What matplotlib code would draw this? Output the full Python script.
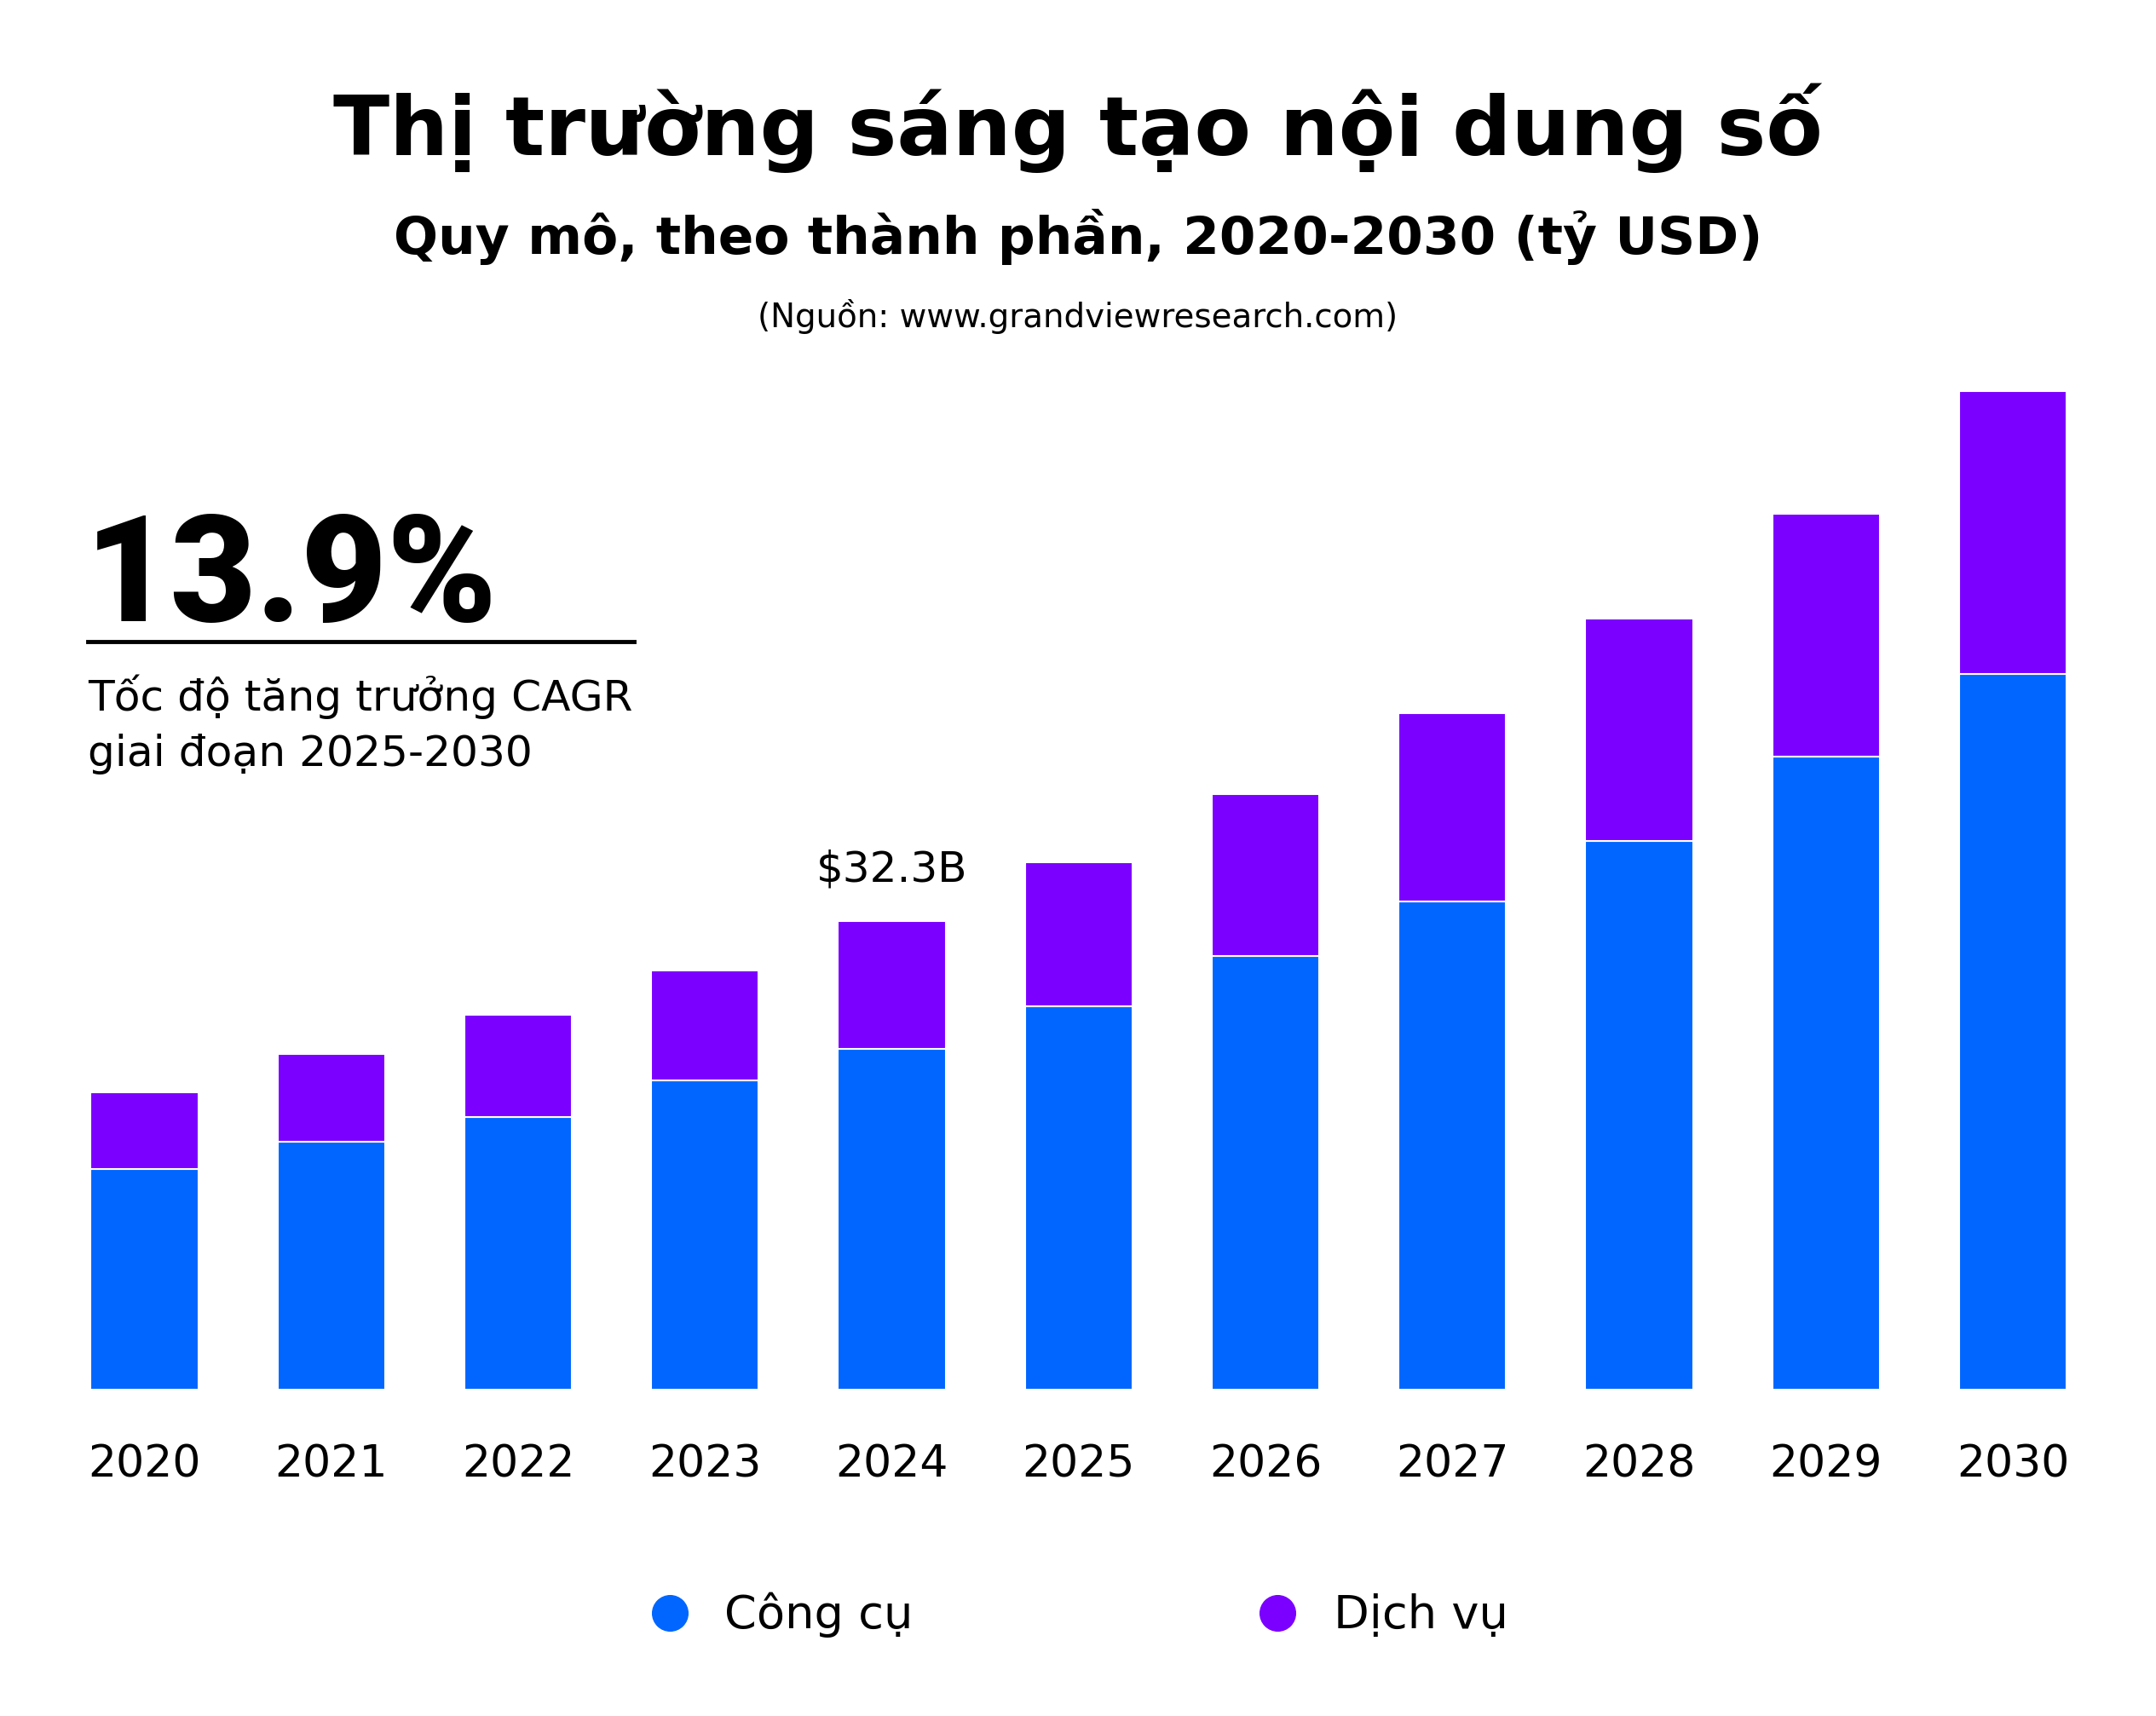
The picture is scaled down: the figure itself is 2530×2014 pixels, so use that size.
import matplotlib
matplotlib.use("Agg")
import matplotlib.pyplot as plt
from matplotlib.lines import Line2D

years = ["2020", "2021", "2022", "2023", "2024", "2025", "2026", "2027", "2028", "2029", "2030"]
cong_cu = [15.2, 17.1, 18.8, 21.3, 23.5, 26.4, 29.9, 33.6, 37.8, 43.6, 49.3]
dich_vu = [5.3, 6.0, 7.0, 7.6, 8.8, 9.9, 11.1, 13.0, 15.3, 16.7, 19.5]
series_names = ["Công cụ", "Dịch vụ"]
title = "Thị trường sáng tạo nội dung số"
subtitle = "Quy mô, theo thành phần, 2020-2030 (tỷ USD)"
source = "(Nguồn: www.grandviewresearch.com)"
cagr_value = "13.9%"
cagr_lines = ["Tốc độ tăng trưởng CAGR", "giai đoạn 2025-2030"]
highlight_label = "$32.3B"
highlight_index = 4

BLUE = "#0066FF"
PURPLE = "#7B00FF"
W, H = 2530, 2014
DPI = 100
FONT = ["DejaVu Sans"]

plt.rcParams["font.family"] = FONT
fig = plt.figure(figsize=(W / DPI, H / DPI), dpi=DPI)
fig.patch.set_facecolor("white")

# axes geometry in pixels
base_px = 1631
top_px = 300
px_per_unit = 17.04
first_center = 169.5
step = 219.25
ax = fig.add_axes([0, (H - base_px) / H, 1, (base_px - top_px) / H])
ax.set_xlim(-first_center / step, (W - first_center) / step)
ax.set_ylim(0, (base_px - top_px) / px_per_unit)
ax.axis("off")

x = list(range(len(years)))
ax.bar(x, cong_cu, width=0.575, color=BLUE, edgecolor="white", linewidth=1.5)
ax.bar(x, dich_vu, bottom=cong_cu, width=0.575, color=PURPLE, edgecolor="white", linewidth=1.5)

renderer = fig.canvas.get_renderer()


def px_text(xp, yp, s, target_w=None, size=20, **kw):
    t = fig.text(xp / W, 1 - yp / H, s, fontsize=size, **kw)
    if target_w is not None:
        w = t.get_window_extent(renderer).width
        t.set_fontsize(size * target_w / w)
    return t


px_text(W / 2, 182, title, target_w=1749, size=80, ha="center", va="baseline", fontweight="bold")
px_text(W / 2, 298, subtitle, target_w=1606, size=40, ha="center", va="baseline", fontweight="bold")
px_text(W / 2, 384, source, target_w=752, size=20, ha="center", va="baseline")

px_text(100, 729, cagr_value, target_w=484, size=100, ha="left", va="baseline",
        family=["Roboto", "DejaVu Sans"], fontweight="black")
fig.add_artist(Line2D([103 / W, 744 / W], [1 - 753 / H, 1 - 753 / H], color="black", linewidth=3.5))
t1 = px_text(103, 834, cagr_lines[0], target_w=638, size=30, ha="left", va="baseline")
px_text(103, 899, cagr_lines[1], size=t1.get_fontsize(), ha="left", va="baseline")

hx = first_center + highlight_index * step
px_text(hx, 1034, highlight_label, target_w=178, size=30, ha="center", va="baseline")

ty = px_text(first_center, 1733, years[0], target_w=132, size=36, ha="center", va="baseline")
ys = ty.get_fontsize()
for i in range(1, len(years)):
    px_text(first_center + i * step, 1733, years[i], size=ys, ha="center", va="baseline")

# legend
for cx, col in [(786, BLUE), (1499, PURPLE)]:
    fig.add_artist(Line2D([cx / W], [1 - 1893 / H], marker="o", markersize=30, color=col, linestyle="none"))
l1 = px_text(850, 1911, series_names[0], target_w=221, size=36, ha="left", va="baseline")
px_text(1565, 1911, series_names[1], size=l1.get_fontsize(), ha="left", va="baseline")

fig.savefig("out.png", dpi=DPI, facecolor="white")
